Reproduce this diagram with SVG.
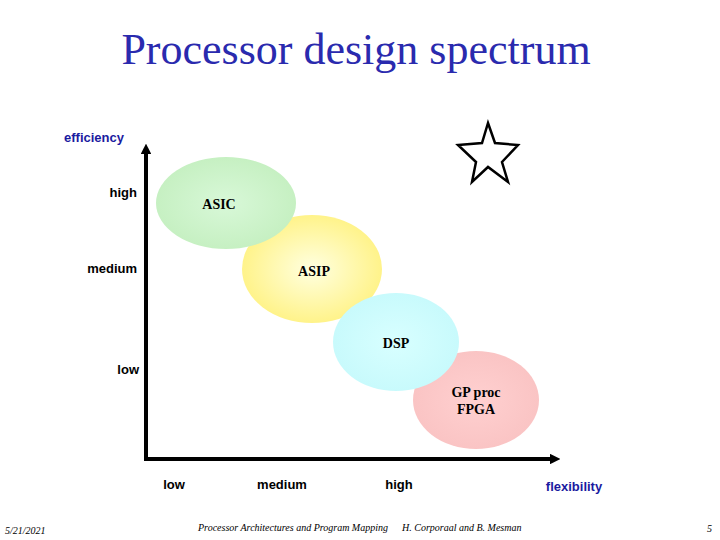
<svg xmlns="http://www.w3.org/2000/svg" width="720" height="540" viewBox="0 0 720 540">
<style>
.t{font-family:"Liberation Serif","Times New Roman",serif;fill:#000}
.ax{font-family:"Liberation Sans",Arial,sans-serif;font-weight:bold;font-size:13px;fill:#000}
.blue{fill:#1a1aa0}
.ft{font-family:"Liberation Serif",serif;font-style:italic;font-size:10px;fill:#000}
.axis{stroke:#000;stroke-width:4;fill:none}
</style>
<defs>
<radialGradient id="gGreen"><stop offset="0" stop-color="#d8f8d8"/><stop offset="1" stop-color="#c6f0c2"/></radialGradient>
<radialGradient id="gYellow"><stop offset="0" stop-color="#ffffe0"/><stop offset="1" stop-color="#fff38a"/></radialGradient>
<radialGradient id="gCyan"><stop offset="0" stop-color="#d8ffff"/><stop offset="1" stop-color="#c8fafc"/></radialGradient>
<radialGradient id="gPink"><stop offset="0" stop-color="#ffd0d0"/><stop offset="1" stop-color="#fac4c4"/></radialGradient>
<marker id="arr" markerWidth="2.6" markerHeight="2.6" refX="0.5" refY="1.3" orient="auto" markerUnits="strokeWidth"><path d="M0,0 L2.6,1.3 L0,2.6 Z" fill="#000"/></marker>
</defs>
<rect width="720" height="540" fill="#fff"/>
<text class="t" x="356" y="64" font-size="44" text-anchor="middle" style="fill:#2a2aae">Processor design spectrum</text>
<g id="star"><polygon points="488,123 495,143 518,145 502,162 508,182 488,167 472,182 476,162 458,145 482,143" fill="#fff" stroke="#000" stroke-width="2.5" stroke-linejoin="miter"/></g>
<g id="asip"><ellipse cx="312" cy="269" rx="70" ry="54" fill="url(#gYellow)"/><text class="t" x="314" y="276" font-size="14" font-weight="bold" text-anchor="middle">ASIP</text></g>
<g id="asic"><ellipse cx="226" cy="203" rx="70" ry="46" fill="url(#gGreen)"/><text class="t" x="219" y="209" font-size="14" font-weight="bold" text-anchor="middle">ASIC</text></g>
<g id="gpproc"><ellipse cx="476" cy="400" rx="63" ry="49" fill="url(#gPink)"/><text class="t" x="476" y="397" font-size="14" font-weight="bold" text-anchor="middle">GP proc</text><text class="t" x="476" y="414" font-size="14" font-weight="bold" text-anchor="middle">FPGA</text></g>
<g id="dsp"><ellipse cx="396" cy="342" rx="63" ry="49" fill="url(#gCyan)"/><text class="t" x="396" y="348" font-size="14" font-weight="bold" text-anchor="middle">DSP</text></g>
<g id="connectors">
<path class="axis" d="M146,459 L146,152" marker-end="url(#arr)"/>
<path class="axis" d="M144,459 L552,459" marker-end="url(#arr)"/>
</g>
<g id="labels">
<text class="ax blue" x="64" y="142">efficiency</text>
<text class="ax" x="137" y="197" text-anchor="end">high</text>
<text class="ax" x="137" y="273" text-anchor="end">medium</text>
<text class="ax" x="139" y="374" text-anchor="end">low</text>
<text class="ax" x="174" y="489" text-anchor="middle">low</text>
<text class="ax" x="282" y="489" text-anchor="middle">medium</text>
<text class="ax" x="399" y="489" text-anchor="middle">high</text>
<text class="ax blue" x="574" y="491" text-anchor="middle">flexibility</text>
</g>
<g id="footer">
<text class="ft" x="5" y="534">5/21/2021</text>
<text class="ft" x="198" y="531">Processor Architectures and Program Mapping</text>
<text class="ft" x="402" y="531">H. Corporaal and B. Mesman</text>
<text class="ft" x="712" y="532" text-anchor="end">5</text>
</g>
</svg>
